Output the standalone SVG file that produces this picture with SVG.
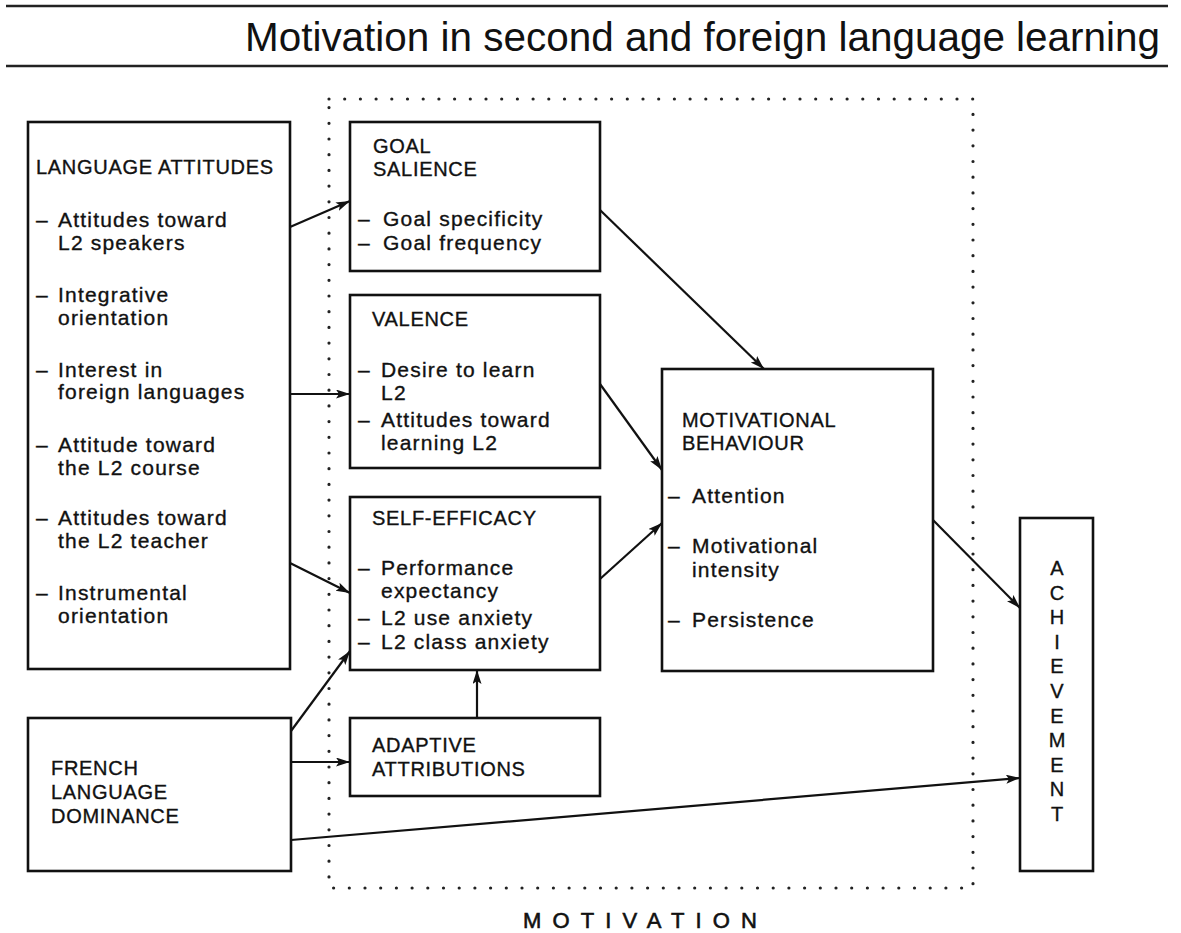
<svg xmlns="http://www.w3.org/2000/svg" width="1181" height="933" viewBox="0 0 1181 933">
<style>
text{font-family:"Liberation Sans",Arial,Helvetica,sans-serif;fill:#111}
.h{font-size:20px;letter-spacing:0.7px;stroke:#111;stroke-width:0.35px}
.b{font-size:21px;letter-spacing:1.2px;stroke:#111;stroke-width:0.35px}
.box{fill:none;stroke:#111;stroke-width:2.6}
.con{stroke:#111;stroke-width:2.2;fill:none;marker-end:url(#ah)}
.rule{stroke:#222;stroke-width:2.6}
.dot{fill:none;stroke:#222;stroke-width:3.2;stroke-linecap:round;stroke-dasharray:0 15.7}
.ach{font-size:20px;text-anchor:middle;stroke:#111;stroke-width:0.35px}
</style>
<defs>
<marker id="ah" markerUnits="userSpaceOnUse" markerWidth="15" markerHeight="10" refX="14" refY="4.5" orient="auto">
<path d="M0,0 L14,4.5 L0,9 L3,4.5 Z" fill="#111"/>
</marker>
</defs>
<rect width="1181" height="933" fill="#fff"/>
<g id="header">
<line class="rule" x1="6" y1="6" x2="1168" y2="6"/>
<text x="245" y="51" font-size="40" textLength="915" lengthAdjust="spacingAndGlyphs">Motivation in second and foreign language learning</text>
<line class="rule" x1="6" y1="66" x2="1168" y2="66"/>
</g>
<g id="motivation-frame">
<rect class="dot" x="329" y="99" width="644" height="789"/>
<text x="523" y="928" font-size="22" stroke="#111" stroke-width="0.6" textLength="234" lengthAdjust="spacing">MOTIVATION</text>
</g>
<g id="language-attitudes">
<rect class="box" x="28" y="122" width="262" height="547"/>
<text class="h" x="36" y="174">LANGUAGE ATTITUDES</text>
<text class="b" x="36" y="227">–</text><text class="b" x="58" y="227">Attitudes toward</text>
<text class="b" x="58" y="250">L2 speakers</text>
<text class="b" x="36" y="302">–</text><text class="b" x="58" y="302">Integrative</text>
<text class="b" x="58" y="325">orientation</text>
<text class="b" x="36" y="377">–</text><text class="b" x="58" y="377">Interest in</text>
<text class="b" x="58" y="399">foreign languages</text>
<text class="b" x="36" y="452">–</text><text class="b" x="58" y="452">Attitude toward</text>
<text class="b" x="58" y="475">the L2 course</text>
<text class="b" x="36" y="525">–</text><text class="b" x="58" y="525">Attitudes toward</text>
<text class="b" x="58" y="548">the L2 teacher</text>
<text class="b" x="36" y="600">–</text><text class="b" x="58" y="600">Instrumental</text>
<text class="b" x="58" y="623">orientation</text>
</g>
<g id="french-dominance">
<rect class="box" x="28" y="718" width="263" height="153"/>
<text class="h" x="51" y="775">FRENCH</text>
<text class="h" x="51" y="799">LANGUAGE</text>
<text class="h" x="51" y="823">DOMINANCE</text>
</g>
<g id="goal-salience">
<rect class="box" x="350" y="122" width="250" height="149"/>
<text class="h" x="373" y="153">GOAL</text>
<text class="h" x="373" y="176">SALIENCE</text>
<text class="b" x="358" y="226">–</text><text class="b" x="383" y="226">Goal specificity</text>
<text class="b" x="358" y="250">–</text><text class="b" x="383" y="250">Goal frequency</text>
</g>
<g id="valence">
<rect class="box" x="350" y="295" width="250" height="173"/>
<text class="h" x="372" y="326">VALENCE</text>
<text class="b" x="358" y="377">–</text><text class="b" x="381" y="377">Desire to learn</text>
<text class="b" x="381" y="400">L2</text>
<text class="b" x="358" y="427">–</text><text class="b" x="381" y="427">Attitudes toward</text>
<text class="b" x="381" y="450">learning L2</text>
</g>
<g id="self-efficacy">
<rect class="box" x="350" y="497" width="250" height="173"/>
<text class="h" x="372" y="525">SELF-EFFICACY</text>
<text class="b" x="358" y="575">–</text><text class="b" x="381" y="575">Performance</text>
<text class="b" x="381" y="598">expectancy</text>
<text class="b" x="358" y="625">–</text><text class="b" x="381" y="625">L2 use anxiety</text>
<text class="b" x="358" y="649">–</text><text class="b" x="381" y="649">L2 class anxiety</text>
</g>
<g id="adaptive-attributions">
<rect class="box" x="350" y="718" width="250" height="78"/>
<text class="h" x="372" y="752">ADAPTIVE</text>
<text class="h" x="372" y="776">ATTRIBUTIONS</text>
</g>
<g id="motivational-behaviour">
<rect class="box" x="662" y="369" width="271" height="302"/>
<text class="h" x="682" y="427">MOTIVATIONAL</text>
<text class="h" x="682" y="450">BEHAVIOUR</text>
<text class="b" x="668" y="503">–</text><text class="b" x="692" y="503">Attention</text>
<text class="b" x="668" y="553">–</text><text class="b" x="692" y="553">Motivational</text>
<text class="b" x="692" y="577">intensity</text>
<text class="b" x="668" y="627">–</text><text class="b" x="692" y="627">Persistence</text>
</g>
<g id="achievement">
<rect class="box" x="1020" y="518" width="73" height="353"/>
<text class="ach" x="1057" y="575">A</text>
<text class="ach" x="1057" y="600">C</text>
<text class="ach" x="1057" y="624">H</text>
<text class="ach" x="1057" y="649">I</text>
<text class="ach" x="1057" y="673">E</text>
<text class="ach" x="1057" y="698">V</text>
<text class="ach" x="1057" y="723">E</text>
<text class="ach" x="1057" y="747">M</text>
<text class="ach" x="1057" y="772">E</text>
<text class="ach" x="1057" y="796">N</text>
<text class="ach" x="1057" y="821">T</text>
</g>
<g id="connectors">
<line class="con" x1="290" y1="227" x2="350" y2="201"/>
<line class="con" x1="290" y1="394" x2="350" y2="394"/>
<line class="con" x1="290" y1="563" x2="350" y2="593"/>
<line class="con" x1="291" y1="731" x2="350" y2="651"/>
<line class="con" x1="291" y1="762" x2="350" y2="762"/>
<line class="con" x1="477" y1="718" x2="477" y2="670"/>
<line class="con" x1="600" y1="210" x2="764" y2="369"/>
<line class="con" x1="600" y1="384" x2="662" y2="470"/>
<line class="con" x1="600" y1="579" x2="662" y2="523"/>
<line class="con" x1="933" y1="520" x2="1020" y2="608"/>
<line class="con" x1="291" y1="840" x2="1020" y2="778"/>
</g>
</svg>
